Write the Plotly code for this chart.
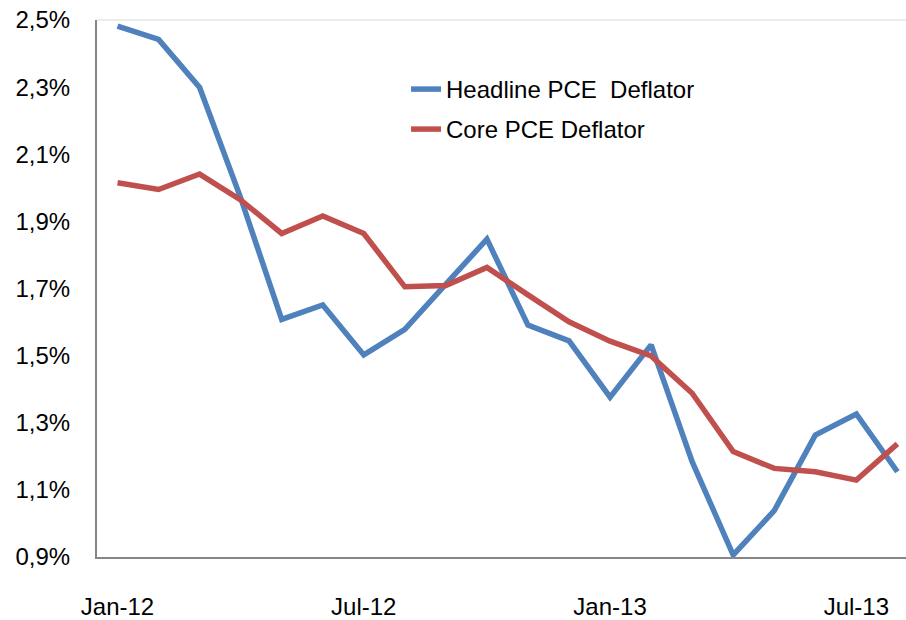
import plotly.graph_objects as go

months = ["Jan-12", "Feb-12", "Mar-12", "Apr-12", "May-12", "Jun-12", "Jul-12", "Aug-12",
          "Sep-12", "Oct-12", "Nov-12", "Dec-12", "Jan-13", "Feb-13", "Mar-13", "Apr-13",
          "May-13", "Jun-13", "Jul-13", "Aug-13"]
headline = [2.482, 2.442, 2.299, 1.97, 1.608, 1.651, 1.502, 1.578, 1.713, 1.847,
            1.591, 1.544, 1.376, 1.532, 1.184, 0.906, 1.038, 1.263, 1.326, 1.154]
core = [2.015, 1.995, 2.041, 1.964, 1.864, 1.916, 1.864, 1.705, 1.709, 1.763,
        1.681, 1.601, 1.543, 1.499, 1.388, 1.214, 1.164, 1.154, 1.129, 1.237]

x_tick_vals = ["Jan-12", "Jul-12", "Jan-13", "Jul-13"]
y_tick_vals = [0.9, 1.1, 1.3, 1.5, 1.7, 1.9, 2.1, 2.3, 2.5]
y_tick_text = ["0,9%", "1,1%", "1,3%", "1,5%", "1,7%", "1,9%", "2,1%", "2,3%", "2,5%"]

FONT = "Liberation Sans"

fig = go.Figure()
fig.add_trace(go.Scatter(x=months, y=headline, mode="lines", name="Headline PCE  Deflator",
                         line=dict(color="#4F81BD", width=5.5), legend="legend"))
fig.add_trace(go.Scatter(x=months, y=core, mode="lines", name="Core PCE Deflator",
                         line=dict(color="#C0504D", width=5.5), legend="legend2"))

legend_style = dict(xanchor="left", yanchor="top", bgcolor="rgba(0,0,0,0)",
                    font=dict(family=FONT, size=24, color="black"))

fig.update_layout(
    width=906, height=620,
    margin=dict(l=97, r=0, t=20, b=63, autoexpand=False),
    paper_bgcolor="white", plot_bgcolor="white",
    font=dict(family=FONT, size=24, color="black"),
    showlegend=True,
    legend=dict(x=0.382, y=0.9125, **legend_style),
    legend2=dict(x=0.382, y=0.838, **legend_style),
    xaxis=dict(type="category", range=[-0.5, 19.21], tickmode="array",
               tickvals=x_tick_vals, ticktext=x_tick_vals, automargin=False,
               ticklabeloverflow="allow",
               showline=True, linecolor="#868686", linewidth=2,
               showgrid=False, zeroline=False, ticks="", ticklabelstandoff=27),
    yaxis=dict(range=[0.9, 2.5], tickmode="array", tickvals=y_tick_vals, ticktext=y_tick_text,
               automargin=False, ticklabeloverflow="allow",
               showline=True, linecolor="#868686", linewidth=2,
               showgrid=False, zeroline=False, ticks="", ticklabelstandoff=20),
    shapes=[dict(type="line", xref="paper", yref="paper", x0=0, x1=1, y0=1, y1=1,
                 line=dict(color="#D9D9D9", width=1))],
)

# remove the default page margin so the figure fills the window exactly
fig.write_html("out.html", config={"displayModeBar": False},
               post_script="document.body.style.margin='0';document.body.style.overflow='hidden';")
